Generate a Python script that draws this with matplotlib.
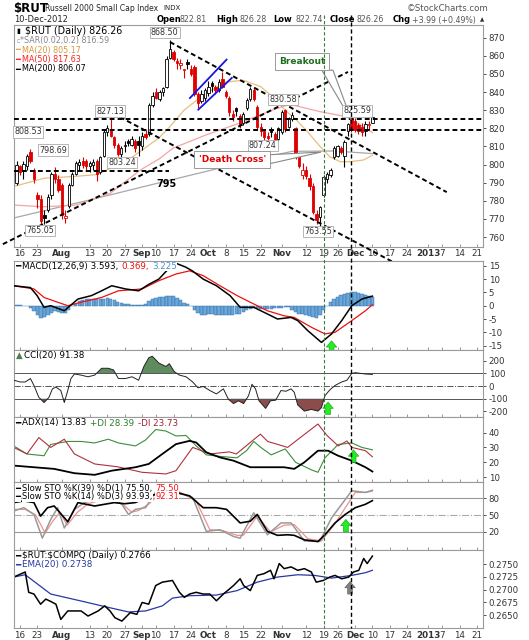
import numpy as np
import pandas as pd
import matplotlib
matplotlib.use("Agg")
import matplotlib.pyplot as plt
import matplotlib.transforms as mtransforms
from matplotlib.lines import Line2D
from matplotlib.patches import Rectangle, Polygon

plt.rcParams['font.family'] = ['DejaVu Sans']

# ---------------- trading calendar: x = trading days from 16-Jul-2012 ----------------
# market closures up to the last bar; the projected area after it runs on plain weekdays
holidays = ["2012-09-03", "2012-10-29", "2012-10-30", "2012-11-22"]
cal = pd.bdate_range("2012-07-13", "2013-01-31")
cal = cal[~cal.isin(pd.to_datetime(holidays))]
day0 = cal.get_loc(pd.Timestamp("2012-07-16"))


def dpos(s):
    return cal.get_loc(pd.Timestamp(s)) - day0


candle_dates = cal[(cal >= "2012-07-13") & (cal <= "2012-12-10")]

# ---------------- $RUT daily candles, 13-Jul .. 10-Dec-2012 ----------------
opens = [790, 799, 797, 799, 807, 797, 783, 781, 772, 775, 783, 795, 792, 789, 770.5,
         777, 789, 795, 800, 802, 802, 799, 800, 802, 796, 805, 818, 819, 815, 811,
         806, 810, 813, 811, 813, 813, 810, 817, 817, 833, 840, 836, 840, 843, 859,
         862, 857, 855, 852, 856.5, 853, 854, 839, 835, 837, 839.5, 845, 843, 841, 847,
         840, 837, 828, 831, 827, 823, 831, 836, 841, 832, 821, 818.5, 816, 819.5, 817,
         814, 818, 830, 821, 825, 820, 804, 794, 797, 792.5, 788, 773, 771, 783, 792,
         794.5, 804, 805, 809, 804.5, 818.6, 825, 824, 822, 821, 818.5, 822, 822.81]
highs = [802, 800, 802, 806, 808.53, 798, 785, 783, 775, 784, 796, 798.69, 794, 790, 775,
         790, 796, 802, 803, 804, 803, 802, 803, 803, 805, 819, 822, 827.13, 816, 812,
         810, 813, 814, 816, 814, 816, 818, 819, 834, 840, 842, 841, 843, 860, 868.5,
         863, 859, 858, 853, 858, 855, 855, 840, 841, 842, 846, 846, 844, 847, 851,
         841, 838, 830, 832, 828, 829, 836.5, 843, 842, 833, 823, 819, 818, 821, 818,
         821, 830, 830.58, 826.5, 829, 821, 806, 801, 799, 795, 790, 775, 777, 794, 796,
         798, 810, 811, 810, 813.5, 823, 825.4, 825.59, 823, 823, 824, 824, 826.28]
lows = [789, 794, 792, 797, 801, 790, 776, 765.05, 767, 774, 781, 790, 785, 770, 767.5,
        776, 788, 794, 797, 798, 797, 796, 797, 791, 795, 804, 816, 815, 809, 805,
        803.24, 807, 810, 810, 807, 805, 808, 814, 816, 832, 836, 835, 838, 842, 858,
        857, 853, 853, 848, 853, 849, 838, 831, 834, 835, 838, 840, 839, 840, 842,
        837, 827, 824, 827, 820, 822, 830, 835, 835, 819, 816, 807.24, 813, 815, 810,
        813, 817, 818, 820, 824, 803, 798, 792, 792, 786, 773, 767, 763.55, 782, 790,
        793, 803, 804, 806, 798.8, 816, 818, 818, 817, 816, 816, 819, 822.74]
closes = [800, 796, 800.5, 805, 802, 792, 781, 769, 770.5, 782, 795, 792, 786, 772, 771.5,
          789, 795, 801, 801.5, 800, 799, 801, 801.5, 795, 804, 818, 820, 816, 811, 806,
          809, 811, 812, 814, 809, 811, 816, 815, 833, 838, 837, 840, 842, 858, 864,
          858, 856, 855.8, 852.5, 855.5, 850, 839, 834, 839, 841, 843, 843.5, 841, 845.5, 843,
          838, 829, 826, 829.5, 822, 828, 835.5, 841.5, 836, 821, 818.5, 815, 814.5, 818, 813,
          820, 829, 819.5, 825.5, 827.5, 804.5, 799, 797, 793.5, 788, 774, 769.5, 776.5, 793, 795,
          797, 809, 810, 807, 812.5, 822.5, 819.5, 819, 818.5, 818, 822.5, 822.27, 826.26]

# moving averages (trading day, value)
ma20_day = [-1.7, 7, 16, 22, 26, 31, 35, 40, 43, 47, 53, 59, 64, 69, 72, 76, 79, 82, 86, 88.8, 91.7, 94.6, 98.4, 101]
ma20_val = [788, 792.5, 793.5, 794.5, 798, 802.5, 808, 815, 821, 830, 839, 845.5, 846.5, 843, 838, 830,
            825, 819, 810, 804.3, 801.6, 801.6, 802.5, 805.17]
ma50_day = [-1.8, 6.7, 16.2, 25.8, 34.5, 40.1, 43.8, 53.5, 63, 72.6, 77.4, 86, 93.6, 98.4, 101]
ma50_val = [777.7, 776.7, 777.7, 784.1, 797, 803.4, 809, 816.5, 822.9, 830.3, 833.2, 829.2, 826.4, 820.9, 817.63]
ma200_day = [-1.9, 20, 40, 55, 70.7, 78, 90, 101]
ma200_val = [770.5, 780.5, 790, 797, 804.3, 807.3, 807.5, 806.07]

# MACD(12,26,9)
macd_day = [-1.8, 3.0, 4.9, 6.9, 8.8, 12.7, 16.6, 20.5, 23.4, 26.3, 30.2, 34.0, 36.9, 39.8, 42.3, 45.0, 47.5,
            49.5, 52.5, 56.3, 60.2, 63.1, 67.0, 70.9, 73.8, 77.7, 79.6, 82.5, 86.4, 89.3, 92.2, 95.1, 98.0, 101]
macd_val = [7.5, 6.8, 3.8, -0.6, 0.0, -1.9, 2.5, 3.8, 5.6, 7.5, 6.3, 5.6, 8.0, 10.0, 13.5, 15.8, 14.5,
            13.0, 10.0, 7.5, 3.8, -0.6, -0.6, -3.1, -5.0, -4.4, -5.6, -9.4, -13.8, -10.6, -5.6, 0.0, 2.5, 3.593]
sig_day = [-1.8, 4.0, 6.9, 10.8, 13.7, 17.5, 23.4, 28.2, 35.0, 39.8, 44.7, 48.6, 52.5, 57.3, 62.2, 66.0,
           70.9, 75.7, 78.6, 83.5, 87.4, 90.3, 95.1, 99.0, 101]
sig_val = [7.5, 6.3, 3.1, 1.3, 0.0, 1.3, 3.1, 5.6, 6.3, 9.4, 11.9, 13.1, 11.3, 7.5, 3.8, 1.3,
           -1.9, -3.8, -4.4, -8.1, -10.6, -10.0, -5.6, -1.9, 0.369]
hist_val = [0.3, 0.2, 0.0, -0.3, -0.8,
            -2.0, -3.5, -4.5, -4.3, -3.5, -2.8,
            -2.0, -2.2, -2.8, -2.6, -1.5,
            -0.2, 0.8, 1.6, 2.2, 2.5, 2.6,
            2.6, 2.5, 2.4, 2.6, 2.8, 2.5, 2.0, 1.5,
            1.0, 0.7, 0.5, 0.4, 0.3, 0.2, 0.3,
            0.8, 1.8, 2.6, 3.0, 3.2, 3.4, 3.6, 3.8, 3.5, 2.8, 2.0,
            1.2, 0.5, -0.3, -1.5,
            -2.8, -3.4, -3.4, -3.3, -3.3, -3.4, -3.5, -3.6, -3.6, -3.5, -3.4, -3.3, -3.0, -2.5,
            -1.8, -1.2, -0.8, -0.9, -1.2, -1.4,
            -1.2, -1.1, -1.0, -0.9, -0.8, -0.6, -0.5,
            -1.5, -2.5, -3.0, -3.2, -3.6, -4.0, -4.4, -4.5, -3.5,
            -1.5, 0.0,
            1.5, 2.6, 3.4, 4.0, 4.5, 4.9, 5.1, 5.0, 4.8, 4.5, 4.1, 3.7, 3.225]

# CCI(20)
cci_day = [-1.8, 0.1, 1.5, 3.0, 4.0, 5.4, 6.9, 8.3, 9.3, 10.3, 11.7, 12.7, 13.7, 14.6, 15.6, 17.5, 19.5,
           21.4, 23.4, 25.3, 26.8, 28.2, 30.2, 32.1, 34.0, 35.5, 36.9, 37.9, 39.8, 41.8, 42.8, 44.2,
           45.7, 47.6, 49.5, 51.0, 52.5, 54.4, 56.3, 58.3, 59.7, 61.2, 62.6, 64.1, 65.5, 66.5, 67.5,
           68.5, 70.4, 71.8, 73.3, 74.8, 76.2, 77.7, 78.6, 79.6, 81.5, 83.5, 85.4, 86.4, 87.4, 88.8,
           90.3, 92.2, 93.7, 95.1, 96.1, 99.0, 101]
cci_val = [46, 32, 32, 59, 5, -89, -130, -89, -22, -8, -35, -130, -35, 59, 95, 86, 73,
           86, 140, 140, 127, 59, 59, 73, 46, 154, 222, 235, 181, 154, 176, 114,
           86, 73, 32, -14, -3, -35, -62, -22, -103, -138, -116, -138, -76, 14, -22,
           -116, -176, -116, -111, -35, -41, -22, -49, -149, -197, -184, -197, -170, -76, -30,
           5, 32, 46, 100, 105, 95, 91.38]

# ADX(14)
adx_day = [-1.8, 4.0, 9.8, 15.6, 21.4, 26.3, 33.1, 36.9, 40.8, 44.7, 48.6, 50.5, 53.4, 57.3, 61.2,
           66.0, 71.8, 75.7, 78.6, 81.5, 85.4, 88.3, 91.2, 95.1, 99.0, 101]
adx_val = [17.8, 16.7, 15.6, 12.7, 11.6, 14.4, 16.7, 18.9, 25.6, 32.2, 34.4, 33.3, 26.7, 23.3, 21.1,
           16.7, 16.7, 16.7, 15.6, 20.0, 27.8, 27.8, 24.4, 21.1, 16.7, 13.83]
pdi_day = [-1.8, 2.0, 6.9, 8.8, 13.7, 17.5, 21.4, 25.3, 28.2, 33.1, 36.0, 38.9, 41.8, 44.7, 47.6, 50.5,
           53.4, 57.3, 62.2, 65.0, 67.0, 69.0, 72.0, 76.0, 79.0, 83.5, 85.4, 87.4, 91.2, 95.1, 98.0, 101]
pdi_val = [31, 25.6, 24.4, 32, 34, 34, 33, 35.5, 33, 31, 35, 42, 41, 37.7, 38, 31,
           25, 24, 23, 28, 34, 30, 25, 29, 20, 15, 13.3, 23, 32, 33, 30, 28.39]
mdi_day = [-1.8, 2.0, 5.4, 8.8, 12.7, 15.6, 21.4, 28.0, 35.0, 41.8, 44.7, 49.5, 54.4, 60.0, 62.0,
           68.9, 71.0, 76.7, 80.0, 85.4, 88.0, 91.2, 93.7, 95.1, 99.0, 101]
mdi_val = [30, 25.6, 36.6, 30, 35.5, 25.6, 18.9, 17, 13.3, 12.2, 14.4, 30, 25.6, 27, 25.6,
           38.9, 34, 30, 36, 45.7, 38, 31, 34.3, 30, 27.8, 23.73]

# Slow stochastics
k39_day = [-1.8, 1.1, 4.0, 5.9, 7.9, 9.8, 13.7, 16.6, 21.4, 27.0, 30.0, 33.0, 38.0, 42.0, 44.7, 48.6, 52.5,
           56.3, 59.2, 63.1, 66.0, 68.0, 70.9, 73.8, 76.7, 78.6, 81.5, 85.4, 87.4, 90.3, 93.2, 96.1, 99.0, 101]
k39_val = [72, 75, 72, 48, 63, 66, 38, 72, 66, 72, 70, 72, 85, 92, 90, 84, 63,
           63, 60, 36, 39, 51, 21, 14, 15, 14, 6, 3, 15, 36, 51, 63, 69, 75.5]
k14_day = [-1.8, 1.1, 4.0, 6.4, 8.8, 10.8, 12.7, 15.6, 18.5, 22.0, 26.0, 29.2, 31.1, 33.1, 36.0, 39.0, 42.0,
           45.0, 49.5, 53.4, 57.3, 61.2, 63.1, 67.0, 70.9, 74.8, 77.7, 81.5, 85.9, 89.3, 95.1, 99.0, 101]
k14_val = [57, 63, 51, 9, 42, 63, 27, 60, 72, 78, 80, 69, 51, 60, 63, 92, 97,
           90, 81, 21, 24, 12, 9, 54, 15, 36, 36, 4, 3, 45, 93, 90, 93.93]
d3_day = [-1.8, 1.5, 4.5, 7.2, 9.5, 11.5, 13.5, 16.5, 19.5, 23.0, 27.0, 30.0, 32.0, 34.0, 37.0, 40.0, 43.0,
          46.0, 50.5, 54.4, 58.3, 62.2, 64.0, 68.0, 71.8, 75.7, 78.6, 82.5, 86.4, 90.3, 96.1, 99.0, 101]
d3_val = [60, 60, 50, 18, 40, 55, 32, 55, 70, 76, 78, 66, 55, 58, 70, 88, 95,
          90, 75, 24, 22, 14, 14, 48, 20, 32, 33, 8, 4, 35, 90, 90, 92.31]

# $RUT:$COMPQ ratio and its EMA(20)
rat_day = [-1.8, 1.5, 2.5, 4.0, 5.9, 7.4, 8.8, 10.3, 11.7, 13.7, 17.5, 19.5, 22.4, 24.3, 25.8, 27.2, 29.2,
           31.6, 33.5, 35.0, 36.9, 38.9, 40.8, 43.7, 45.7, 47.1, 48.6, 50.5, 52.5, 54.4, 56.3, 58.3,
           61.2, 63.1, 64.1, 66.0, 68.0, 69.9, 71.8, 72.8, 74.3, 75.7, 77.7, 79.6, 81.5, 83.5, 84.9,
           86.9, 88.8, 90.3, 92.2, 94.2, 95.6, 97.1, 98.5, 99.5, 101]
rat_val = [0.27247, 0.27347, 0.26947, 0.26913, 0.26713, 0.26813, 0.26767, 0.26713, 0.26413, 0.2658,
           0.2658, 0.2648, 0.2658, 0.2668, 0.2658, 0.26447, 0.2638, 0.26547, 0.26513, 0.26747,
           0.26713, 0.2708, 0.27147, 0.2718, 0.26947, 0.26847, 0.26913, 0.26947, 0.26913, 0.26913,
           0.2678, 0.26913, 0.2708, 0.27213, 0.2708, 0.2698, 0.2728, 0.27313, 0.2738, 0.27213,
           0.27513, 0.27413, 0.27447, 0.2738, 0.27413, 0.27347, 0.27147, 0.2718, 0.27247, 0.2728,
           0.27213, 0.27247, 0.27347, 0.2738, 0.27613, 0.27513, 0.2766]
ema_day = [-1.8, 1.5, 8.8, 18.5, 23.4, 31.1, 36.0, 40.8, 43.7, 48.6, 56.3, 62.2, 68.0, 73.8, 79.6, 84.4,
           89.3, 95.1, 99.0, 101]
ema_val = [0.27247, 0.27293, 0.26913, 0.2676, 0.2668, 0.2656, 0.2658, 0.2668, 0.26833, 0.2688, 0.26893,
           0.2698, 0.27147, 0.27247, 0.27293, 0.2728, 0.27227, 0.2728, 0.27333, 0.2738]

# price tags shown on the chart (text, trading day, price)
price_tags = [("868.50", 41.5, 873.0), ("827.13", 25.8, 829.5), ("808.53", 2.3, 818.0),
              ("798.69", 9.5, 808.0), ("803.24", 29.2, 801.2), ("765.05", 5.7, 763.6),
              ("830.58", 75.4, 835.8), ("825.59", 96.6, 829.6), ("807.24", 69.6, 810.4),
              ("763.55", 85.4, 763.2)]

tick_dates = ["2012-07-16", "2012-07-23", "2012-08-01", "2012-08-13", "2012-08-20", "2012-08-27",
              "2012-09-04", "2012-09-10", "2012-09-17", "2012-09-24", "2012-10-01", "2012-10-08",
              "2012-10-15", "2012-10-22", "2012-11-01", "2012-11-12", "2012-11-19", "2012-11-26",
              "2012-12-03", "2012-12-10", "2012-12-17", "2012-12-24", "2013-01-01", "2013-01-07",
              "2013-01-14", "2013-01-21"]
tick_text = ["16", "23", "Aug", "13", "20", "27", "Sep", "10", "17", "24", "Oct", "8", "15", "22",
             "Nov", "12", "19", "26", "Dec", "10", "17", "24", "2013", "7", "14", "21"]
bold_ticks = {"Aug", "Sep", "Oct", "Nov", "Dec", "2013"}

# ---------------- figure / panels ----------------
W, H = 529, 640
fig = plt.figure(figsize=(W / 100, H / 100), dpi=100)
LEFT, RIGHT = 13.5, 483
XMIN, XMAX = -1.86, 132.7
tick_pos = [dpos(d) for d in tick_dates]


def panel(top, bottom, ylim, yticks, fmt="{:g}"):
    ax = fig.add_axes([LEFT / W, 1 - bottom / H, (RIGHT - LEFT) / W, (bottom - top) / H])
    ax.set_xlim(XMIN, XMAX)
    ax.set_ylim(*ylim)
    ax.yaxis.tick_right()
    ax.set_yticks(yticks)
    ax.set_yticklabels([fmt.format(v) for v in yticks])
    ax.tick_params(axis='y', labelsize=6.2, colors='#333', length=2, pad=2, width=0.6)
    ax.set_xticks(tick_pos)
    ax.tick_params(axis='x', length=2, direction='in', labelbottom=False, width=0.6, color='#888')
    for s in ax.spines.values():
        s.set_color('#9a9a9a')
        s.set_linewidth(0.8)
    return ax


def date_labels(ax):
    ax.tick_params(axis='x', labelbottom=True, labelsize=6.3, labelcolor='#333', pad=2)
    ax.set_xticklabels(tick_text)
    for lab in ax.get_xticklabels():
        if lab.get_text() in bold_ticks:
            lab.set_fontweight('bold')


ax_main = panel(25, 246.7, (754.7, 877.0), list(range(760, 871, 10)))
ax_macd = panel(261, 349.6, (-16.5, 16.8), [15, 10, 5, 0, -5, -10, -15])
ax_cci = panel(349.6, 417.3, (-246, 287), [200, 100, 0, -100, -200])
ax_adx = panel(417.3, 482.3, (6.6, 50.2), [40, 30, 20, 10])
ax_sto = panel(482.3, 550, (-12, 108), [80, 50, 20])
ax_rat = panel(550, 627.8, (0.26248, 0.27780), [0.2750, 0.2725, 0.2700, 0.2675, 0.2650], "{:.4f}")
date_labels(ax_main)
date_labels(ax_rat)

# ---------------- main price panel ----------------
cx = [dpos(d.strftime("%Y-%m-%d")) for d in candle_dates]
ax_main.plot(ma200_day, ma200_val, color='#a8a8a8', lw=0.9, zorder=2)
ax_main.plot(ma50_day, ma50_val, color='#f3a5a5', lw=0.9, zorder=2)
ax_main.plot(ma20_day, ma20_val, color='#e6bf80', lw=0.9, zorder=2)

for k in range(len(closes)):
    o, h, l, c = opens[k], highs[k], lows[k], closes[k]
    ref = closes[k - 1] if k else o
    col = 'black' if c >= ref else '#e00000'
    lo, hi = min(o, c), max(o, c)
    if hi - lo < 0.5:
        hi = lo + 0.5
    ax_main.vlines(cx[k], l, h, color=col, lw=0.8, zorder=3)
    ax_main.add_patch(Rectangle((cx[k] - 0.33, lo), 0.66, hi - lo, fc=col if c < o else 'white',
                                ec=col, lw=0.6, zorder=4))

dash = dict(color='black', lw=1.4, ls=(0, (2.5, 1.6)), zorder=5, clip_on=False)
ax_main.plot([XMIN, XMAX], [825.0, 825.0], **dash)
ax_main.plot([XMIN, XMAX], [819.1, 819.1], **dash)
ax_main.plot([XMIN, 42.8], [796.4, 796.4], **dash)
ax_main.plot([-4.9, 94.0], [756.1, 851.1], **dash)
ax_main.plot([28.65, 109.7], [826.2, 743.4], **dash)
ax_main.plot([43, 122.3], [867.6, 784.8], **dash)
ax_main.plot([48.7, 59.2], [836.7, 857.9], color='#1515e8', lw=1.3, zorder=5)
ax_main.plot([51.1, 60.7], [830.3, 847.8], color='#1515e8', lw=1.3, zorder=5)
ax_main.text(42.1, 789.3, "795", fontsize=7, fontweight='bold', ha='center', va='center', zorder=6)

for txt, d, p in price_tags:
    ax_main.text(d, p, txt, fontsize=5.8, color='#333', ha='center', va='center', zorder=7,
                 clip_on=False, bbox=dict(boxstyle='square,pad=0.15', fc='white', ec='#aaaaaa', lw=0.6))

# callouts
ax_main.add_patch(Polygon([(86.5, 852.1), (89.7, 852.1), (95.1, 824.0)], closed=True,
                          fc='white', ec='#888', lw=0.8, zorder=6))
ax_main.text(80.8, 856.9, "Breakout", fontsize=6.5, fontweight='bold', color='#1e6e1e',
             ha='center', va='center', zorder=8,
             bbox=dict(boxstyle='square,pad=0.45', fc='white', ec='#999', lw=0.7))
ax_main.add_patch(Polygon([(70.0, 805.3), (86.3, 806.9), (70.0, 799.8)], closed=True,
                          fc='white', ec='#888', lw=0.8, zorder=6))
ax_main.text(60.8, 802.7, "'Death Cross'", fontsize=6.5, fontweight='bold', color='#e00000',
             ha='center', va='center', zorder=8,
             bbox=dict(boxstyle='square,pad=0.45', fc='white', ec='#999', lw=0.7))

# ---------------- MACD ----------------
hist_x = cx[:len(hist_val)]
ax_macd.bar(hist_x, hist_val, width=0.95, color='#6aa6d6', edgecolor='#2c6aa8', lw=0.3, zorder=2)
ax_macd.plot(sig_day, sig_val, color='#f01010', lw=0.9, zorder=3)
ax_macd.plot(macd_day, macd_val, color='black', lw=1.1, zorder=4)

# ---------------- CCI ----------------
ax_cci.axhline(100, color='#555', lw=0.7)
ax_cci.axhline(-100, color='#555', lw=0.7)
ax_cci.axhline(0, color='#555', lw=0.7, ls='-.')
cci = np.array(cci_val)
ax_cci.fill_between(cci_day, 100, cci, where=cci > 100, interpolate=True, color='#5f8c5f', lw=0)
ax_cci.fill_between(cci_day, -100, cci, where=cci < -100, interpolate=True, color='#8c4c4c', lw=0)
ax_cci.plot(cci_day, cci_val, color='#222', lw=0.7, zorder=3)

# ---------------- ADX ----------------
ax_adx.plot(pdi_day, pdi_val, color='#3c8c3c', lw=0.8)
ax_adx.plot(mdi_day, mdi_val, color='#b03040', lw=0.8)
ax_adx.plot(adx_day, adx_val, color='black', lw=1.3)

# ---------------- Slow STO ----------------
ax_sto.axhline(80, color='#999', lw=0.8)
ax_sto.axhline(20, color='#999', lw=0.8)
ax_sto.axhline(50, color='#aaa', lw=0.8, ls='-.')
ax_sto.plot(d3_day, d3_val, color='#f09090', lw=0.9)
ax_sto.plot(k14_day, k14_val, color='#999', lw=1.1)
ax_sto.plot(k39_day, k39_val, color='black', lw=1.2)

# ---------------- ratio ----------------
ax_rat.plot(ema_day, ema_val, color='#2838a0', lw=0.9)
ax_rat.plot(rat_day, rat_val, color='black', lw=1.1)

# ---------------- vertical marker lines ----------------
trans = mtransforms.blended_transform_factory(ax_main.transData, fig.transFigure)
fig.add_artist(Line2D([dpos("2012-11-19")] * 2, [1 - 15 / H, 1 - 628 / H], transform=trans,
                      color='#3a7a3a', lw=0.8, ls=(0, (3, 2)), zorder=10))
fig.add_artist(Line2D([dpos("2012-11-30")] * 2, [1 - 15 / H, 1 - 628 / H], transform=trans,
                      color='black', lw=1.0, ls=(0, (3, 2)), zorder=10))


def up_arrow(ax, d, v, fc, ec):
    ax.annotate('', xy=(d, v), xytext=(0, -9), textcoords='offset points', annotation_clip=False,
                arrowprops=dict(arrowstyle='simple,head_length=0.45,head_width=0.75,tail_width=0.35',
                                fc=fc, ec=ec, lw=0.4, mutation_scale=10, shrinkA=0, shrinkB=0),
                zorder=12)


up_arrow(ax_macd, 89.3, -13.2, '#22ee22', '#119911')
up_arrow(ax_cci, 88.3, -126, '#22ee22', '#119911')
up_arrow(ax_adx, 95.6, 28.3, '#22ee22', '#119911')
up_arrow(ax_sto, 93.4, 42.2, '#22ee22', '#119911')
up_arrow(ax_rat, 94.6, 0.27159, '#808080', '#555555')

# ---------------- texts ----------------
renderer = fig.canvas.get_renderer()


def ftext(x, y, s, **kw):
    return fig.text(x / W, 1 - y / H, s, va='center', ha='left', **kw)


def rich(x, y, parts, size):
    for s, col, wt, gap in parts:
        t = ftext(x, y, s, fontsize=size, color=col, fontweight=wt, zorder=20,
                  bbox=dict(fc='white', ec='none', pad=0.2))
        x += t.get_window_extent(renderer).width + gap


ftext(13, 8.5, r"\$RUT", fontsize=8.5, fontweight='bold')
ftext(45, 8.5, "Russell 2000 Small Cap Index", fontsize=5.5, color='#222')
ftext(163, 8.5, "INDX", fontsize=5.0, color='#222')
ftext(14.5, 20, "10-Dec-2012", fontsize=6.0, color='#222')
for x, s, b in [(156.5, "Open", True), (180, "822.81", False), (216.5, "High", True), (240, "826.28", False),
                (273, "Low", True), (295, "822.74", False), (329.5, "Close", True), (356.5, "826.26", False),
                (392.5, "Chg", True), (412, "+3.99 (+0.49%)", False)]:
    ftext(x, 20, s, fontsize=6.0 if b else 5.7, fontweight='bold' if b else 'normal',
          color='black' if b else '#555')
ftext(479.5, 20, "▲", fontsize=4.0, color='#333')
ftext(407, 8.5, "©StockCharts.com", fontsize=6.2, color='#555')

# main legend
ftext(16.5, 31, "▮", fontsize=5, color='black')
rich(25, 31, [(r"\$RUT (Daily) 826.26", 'black', 'normal', 0)], 6.9)
ftext(16.5, 41, "▫", fontsize=5, color='#888')
rich(20, 41, [("*SAR(0.02,0.2) 816.59", '#888', 'normal', 0)], 5.8)
rich(15.5, 50, [("━", '#e0a860', 'normal', 1.5), ("MA(20) 805.17", '#d8983a', 'normal', 0)], 5.8)
rich(15.5, 59.5, [("━", '#ff2020', 'normal', 1.5), ("MA(50) 817.63", '#ff2020', 'normal', 0)], 5.8)
rich(15.5, 69, [("━", 'black', 'normal', 1.5), ("MA(200) 806.07", 'black', 'normal', 0)], 5.8)

# panel legends
rich(15.5, 266.5, [("━", 'black', 'normal', 1.5), ("MACD(12,26,9) 3.593,", 'black', 'normal', 3),
                   ("0.369,", '#f01010', 'normal', 3), ("3.225", '#4a90d0', 'normal', 0)], 6.3)
rich(15.5, 355.5, [("▲", '#4f7f4f', 'normal', 1.5), ("CCI(20) 91.38", 'black', 'normal', 0)], 6.3)
rich(15.5, 423, [("━", 'black', 'normal', 1.5), ("ADX(14) 13.83", 'black', 'normal', 3.5),
                 ("+DI 28.39", '#2f7f2f', 'normal', 3.5), ("-DI 23.73", '#a02030', 'normal', 0)], 6.3)
rich(15.5, 488.3, [("━", 'black', 'normal', 1.5), ("Slow STO %K(39) %D(1) 75.50,", 'black', 'normal', 3),
                   ("75.50", '#f01010', 'normal', 0)], 6.0)
rich(15.5, 496.8, [("━", 'black', 'normal', 1.5), ("Slow STO %K(14) %D(3) 93.93,", 'black', 'normal', 3),
                   ("92.31", '#f01010', 'normal', 0)], 6.0)
rich(15.5, 556, [("━", 'black', 'normal', 1.5), (r"\$RUT:\$COMPQ (Daily) 0.2766", 'black', 'normal', 0)], 6.3)
rich(15.5, 565, [("━", '#2838a0', 'normal', 1.5), ("EMA(20) 0.2738", '#2838a0', 'normal', 0)], 6.3)

fig.savefig("out.png", dpi=100, facecolor='white')
